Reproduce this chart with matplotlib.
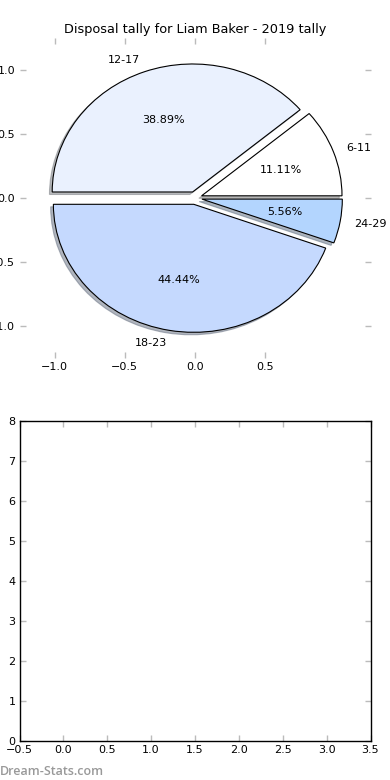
import matplotlib
matplotlib.use("Agg")
import matplotlib.pyplot as plt

labels = ["6-11", "12-17", "18-23", "24-29"]
values = [2, 7, 8, 1]
colors = ["#ffffff", "#eaf1fe", "#c5d9fe", "#b3d5fe"]
explode = [0.05, 0.05, 0.05, 0.05]
title = "Disposal tally for Liam Baker - 2019 tally"

plt.rcParams["font.family"] = "DejaVu Sans"
plt.rcParams["font.size"] = 8

fig = plt.figure(figsize=(3.9, 7.8), dpi=100)
fig.patch.set_facecolor("white")
ax1 = fig.add_axes([0.05, 1 - 358 / 780, 0.9, 320 / 780])
ax2 = fig.add_axes([0.05, 1 - 741 / 780, 0.9, 320 / 780])

wedges, texts, autotexts = ax1.pie(
    values, labels=labels, colors=colors, explode=explode,
    shadow={"ox": -0.014, "oy": -0.014, "shade": 0.5},
    autopct="%1.2f%%", startangle=0, counterclock=True,
    wedgeprops={"edgecolor": "black", "linewidth": 0.8},
    textprops={"fontsize": 8})
ax1.set_aspect("auto")
ax1.set_frame_on(False)
ax1.set_xlim(-1.25, 1.25)
ax1.set_ylim(-1.25, 1.25)
ax1.set_xticks([-1.0, -0.5, 0.0, 0.5])
ax1.set_xticklabels(["\u22121.0", "\u22120.5", "0.0", "0.5"])
ax1.set_yticks([-1.0, -0.5, 0.0, 0.5, 1.0])
ax1.set_yticklabels(["\u22121.0", "\u22120.5", "0.0", "0.5", "1.0"])
ax1.set_title(title, fontsize=9.3, pad=3.5)

ax2.set_xlim(-0.5, 3.5)
ax2.set_ylim(0, 8)
ax2.set_xticks([-0.5, 0, 0.5, 1, 1.5, 2, 2.5, 3, 3.5])
ax2.set_xticklabels(["\u22120.5", "0.0", "0.5", "1.0", "1.5", "2.0", "2.5", "3.0", "3.5"])
ax2.set_yticks(range(0, 9))

for ax in (ax1, ax2):
    ax.tick_params(direction="in", length=4, width=1, color="#bbbbbb",
                   labelsize=8, top=True, right=True, pad=3)
for s in ax2.spines.values():
    s.set_linewidth(1)

fig.text(0.0, 5 / 780, "Dream-Stats.com", color="#999999", fontsize=9,
         family=["Open Sans", "DejaVu Sans"], fontweight="semibold",
         ha="left", va="baseline")

fig.savefig("out.png", dpi=100, facecolor="white")
